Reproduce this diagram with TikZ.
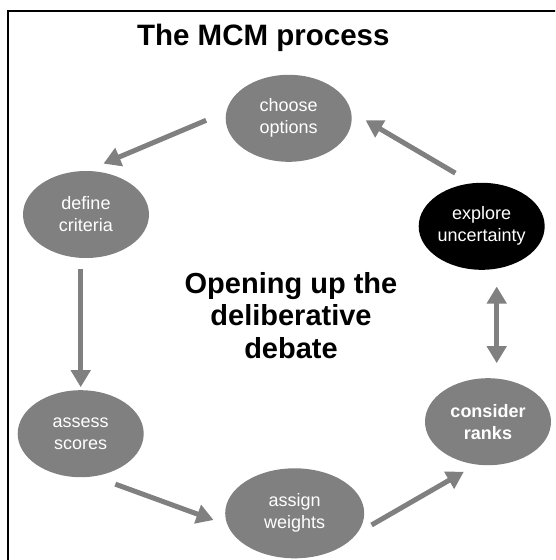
\documentclass[tikz,border=0pt]{standalone}
\usepackage{fontspec}
\setmainfont{Liberation Sans}
\usepackage{tikz}
\usetikzlibrary{arrows.meta, shapes.geometric}
\definecolor{stagegray}{RGB}{128,128,128}
\tikzset{
  stage/.style={ellipse, fill=stagegray, text=white, inner sep=0pt, outer sep=0pt,
    minimum width=126pt, minimum height=87pt, align=center,
    font=\fontsize{18}{22}\selectfont},
  flow/.style={line width=5pt, draw=stagegray, -{Triangle[width=19pt,length=17pt]}},
  dflow/.style={line width=5pt, draw=stagegray,
    {Triangle[width=19pt,length=17pt]}-{Triangle[width=19pt,length=17pt]}},
}
\begin{document}
\begin{tikzpicture}[x=1pt,y=-1pt]
\useasboundingbox (0,0) rectangle (555,560);
\clip (0,0) rectangle (555,560);
\draw[line width=2pt] (7.5,11) rectangle (570,575);
\path (263.3,45) node[anchor=base, font=\bfseries\fontsize{29.5}{35}\selectfont] (title) {The MCM process}
		(288.7,118.3) node[stage] (choose) {choose\\options}
		(86,214.5) node[stage] (define) {define\\criteria}
		(481.7,226.3) node[stage, fill=black] (explore) {explore\\uncertainty}
		(80.7,433.7) node[stage] (assess) {assess\\scores}
		(294.7,513.3) node[stage, minimum width=139pt, minimum height=90pt] (assign) {assign\\weights}
		(488,421.7) node[stage, font=\bfseries\fontsize{18}{22}\selectfont] (consider) {consider\\ranks}
		(291,315.5) node[align=center, font=\bfseries\fontsize{29}{32.5}\selectfont] (debate) {Opening up the\\deliberative\\debate}
		;
\draw[flow, shorten <=22pt, shorten >=19pt] (node cs:name=choose, angle=174) -- (node cs:name=define, angle=90);
\draw[flow, shorten <=11pt, shorten >=3pt] (define.south -| assess.north) -- (assess.north);
\draw[flow, shorten <=23pt, shorten >=15pt] (node cs:name=assess, angle=287) -- (node cs:name=assign, angle=190);
\draw[flow, shorten <=17pt, shorten >=14.7pt] (node cs:name=assign, angle=342) -- (node cs:name=consider, angle=255);
\draw[dflow, shorten <=16.7pt, shorten >=15pt] ([xshift=15pt]explore.south) -- ([xshift=15pt]explore.south |- consider.north);
\draw[flow, shorten <=20pt, shorten >=17pt] (node cs:name=explore, angle=102) -- (node cs:name=choose, angle=6);
\end{tikzpicture}
\end{document}
